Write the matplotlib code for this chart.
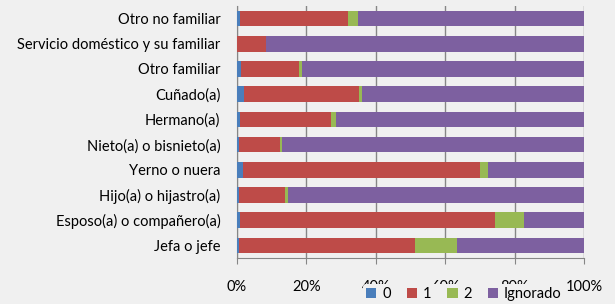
import matplotlib.pyplot as plt
import numpy as np

# categories, bottom to top
categories = ['Jefa o jefe', 'Esposo(a) o compañero(a)', 'Hijo(a) o hijastro(a)',
              'Yerno o nuera', 'Nieto(a) o bisnieto(a)', 'Hermano(a)', 'Cuñado(a)',
              'Otro familiar', 'Servicio doméstico y su familiar', 'Otro no familiar']

# percentages per answer
val_0 = [0.6, 0.9, 0.6, 1.6, 0.6, 0.9, 1.9, 1.2, 0.0, 0.9]
val_1 = [50.7, 73.5, 13.2, 68.5, 11.8, 26.3, 33.4, 16.8, 8.3, 31.1]
val_2 = [12.2, 8.3, 0.8, 2.1, 0.7, 1.3, 0.6, 0.6, 0.0, 2.8]
val_ign = [36.5, 17.3, 85.4, 27.8, 86.9, 71.5, 64.1, 81.4, 91.7, 65.2]

series = [('0', val_0, '#4a7ebb'), ('1', val_1, '#be4b48'),
          ('2', val_2, '#98b954'), ('Ignorado', val_ign, '#7d60a0')]

bg = '#f0f0f0'
plt.rcParams['font.family'] = ['Lato', 'DejaVu Sans']

fig = plt.figure(figsize=(6.15, 3.04), dpi=100, facecolor=bg)
ax = fig.add_axes([237 / 615, 1 - 258 / 304, 347 / 615, 252 / 304], facecolor=bg)

y = np.arange(len(categories))
left = np.zeros(len(categories))
for name, vals, col in series:
    ax.barh(y, vals, left=left, height=0.62, color=col, label=name, zorder=3)
    left += np.array(vals)

ax.set_xlim(0, 100)
ax.set_ylim(-0.5, len(categories) - 0.5)
ax.set_xticks(np.arange(0, 101, 20))
ax.set_xticklabels([f'{v}%' for v in range(0, 101, 20)], fontsize=10.5)
ax.set_yticks(y)
ax.set_yticklabels(categories, fontsize=10.5)
ax.tick_params(axis='y', length=0, pad=12)
ax.tick_params(axis='x', length=4, color='#868686', pad=12)
ax.grid(axis='x', color='#868686', linewidth=1, zorder=0)
for s in ['top', 'right']:
    ax.spines[s].set_visible(False)
for s in ['left', 'bottom']:
    ax.spines[s].set_color('#868686')

# legend sits over the lower tick labels, as in the original
fig.legend(loc='center', bbox_to_anchor=(464 / 615, 1 - 294 / 304), ncol=4,
           fontsize=10.5, handlelength=0.7, handleheight=0.7, handletextpad=0.4,
           columnspacing=1.1, frameon=True, facecolor=bg, edgecolor='none',
           framealpha=1, borderpad=0.2)

fig.savefig('out.png', dpi=100, facecolor=bg)
